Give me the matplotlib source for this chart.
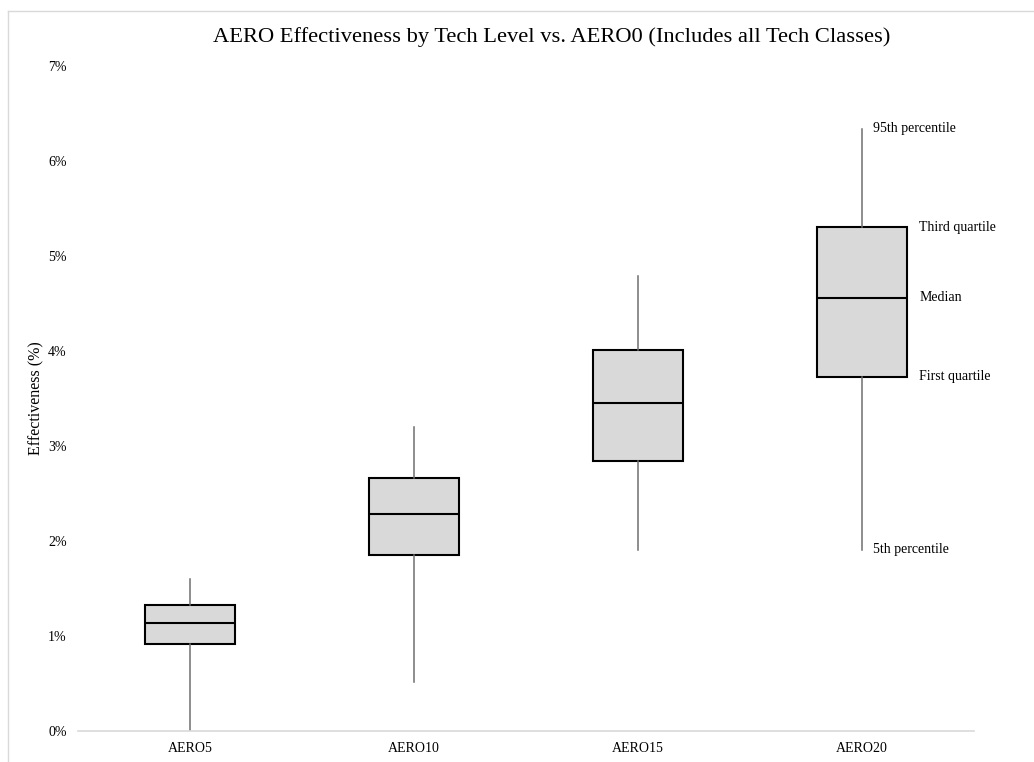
import matplotlib.pyplot as plt
from matplotlib.lines import Line2D
import matplotlib.ticker as mticker

# box stats, in %
levels = ['AERO5', 'AERO10', 'AERO15', 'AERO20']
p5 = [0.0, 0.52, 1.90, 1.91]
q1 = [0.92, 1.85, 2.84, 3.73]
med = [1.14, 2.28, 3.45, 4.56]
q3 = [1.33, 2.66, 4.01, 5.30]
p95 = [1.60, 3.20, 4.79, 6.34]

legend_labels = ['95th percentile', 'Third quartile', 'Median', 'First quartile', '5th percentile']

plt.rcParams['font.family'] = ['Liberation Serif', 'DejaVu Serif']

fig = plt.figure(figsize=(10.34, 7.62), dpi=100)
ax = fig.add_axes([0.0754, 0.0407, 0.8666, 0.8727])

stats = []
for i in range(len(levels)):
    stats.append({'whislo': p5[i], 'q1': q1[i], 'med': med[i], 'q3': q3[i],
                  'whishi': p95[i], 'fliers': [], 'label': levels[i]})

ax.bxp(stats, positions=range(len(levels)), widths=0.4, patch_artist=True,
       showcaps=False, showfliers=False,
       boxprops=dict(facecolor='#d9d9d9', edgecolor='black', linewidth=1.5),
       medianprops=dict(color='black', linewidth=1.5),
       whiskerprops=dict(color='#6f6f6f', linewidth=1.1))

ax.set_xlim(-0.5, 3.5)
ax.set_ylim(0, 7)
ax.yaxis.set_major_locator(mticker.MultipleLocator(1))
ax.yaxis.set_major_formatter(mticker.FuncFormatter(lambda v, p: '%d%%' % v))
ax.tick_params(axis='both', length=0, labelsize=10)
ax.tick_params(axis='y', pad=8)
ax.tick_params(axis='x', pad=8)

for s in ['top', 'right', 'left']:
    ax.spines[s].set_visible(False)
ax.spines['bottom'].set_color('#d9d9d9')
ax.spines['bottom'].set_linewidth(1.2)

ax.set_ylabel('Effectiveness (%)', fontsize=11.5, labelpad=3)
fig.text(552/1034, 1 - 37/762,
         'AERO Effectiveness by Tech Level vs. AERO0 (Includes all Tech Classes)',
         fontsize=16.2, ha='center', va='center')

# labels next to the last box
last = len(levels) - 1
ax.text(last + 0.05, p95[last], legend_labels[0], fontsize=10, va='center')
ax.text(last + 0.255, q3[last], legend_labels[1], fontsize=10, va='center')
ax.text(last + 0.255, med[last], legend_labels[2], fontsize=10, va='center')
ax.text(last + 0.255, q1[last], legend_labels[3], fontsize=10, va='center')
ax.text(last + 0.05, p5[last], legend_labels[4], fontsize=10, va='center')

# light chart-area border (left and top edges visible)
fig.add_artist(Line2D([8/1034, 8/1034], [0, 1 - 11/762], color='#d9d9d9', lw=1,
                      transform=fig.transFigure))
fig.add_artist(Line2D([8/1034, 1], [1 - 11/762, 1 - 11/762], color='#d9d9d9', lw=1,
                      transform=fig.transFigure))

fig.savefig('out.png', dpi=100)
